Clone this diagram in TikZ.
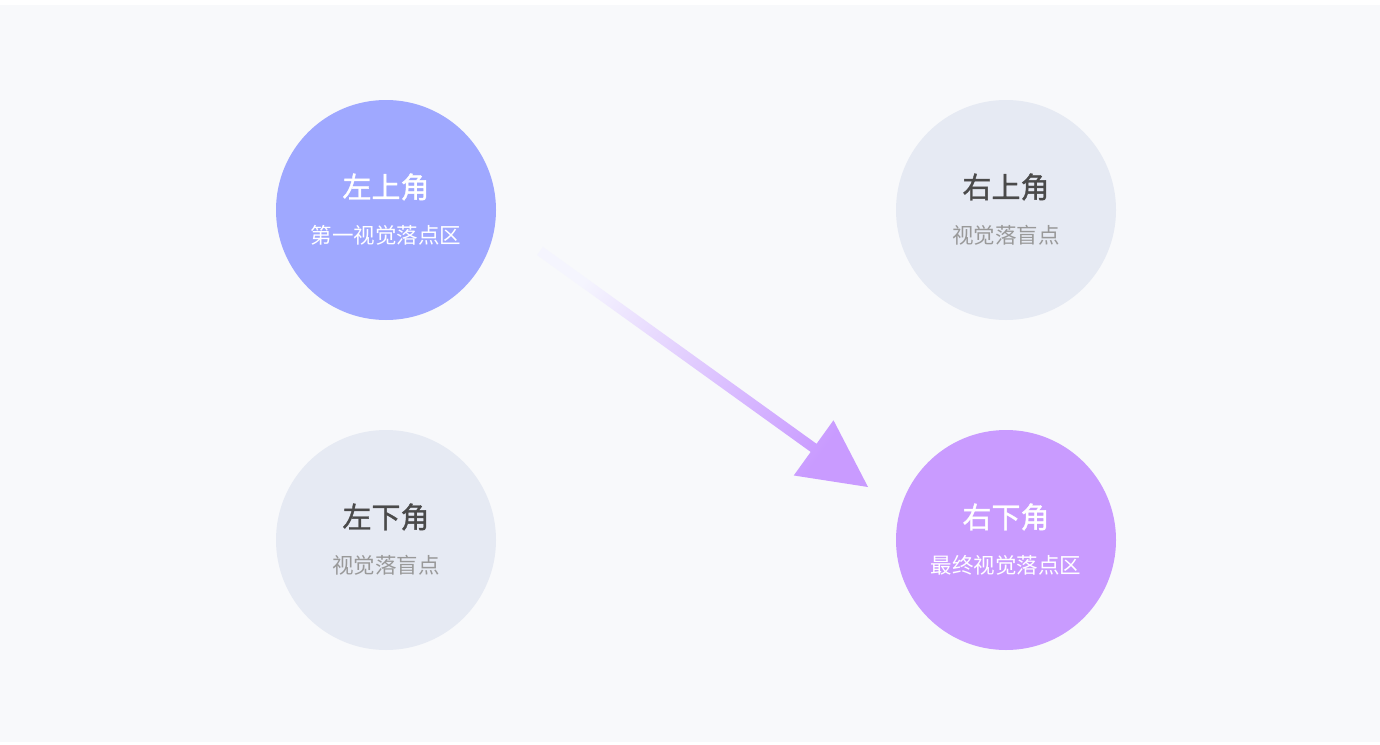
\documentclass[tikz,border=0pt]{standalone}
\usepackage{fontspec}
\newfontfamily\cjk{Noto Sans CJK SC}
\newfontfamily\cjkmed{Noto Sans CJK SC}[BoldFont={Noto Sans CJK SC},BoldFeatures={FakeBold=1.2}]
\usetikzlibrary{calc}
\definecolor{bgcol}{RGB}{248,249,251}
\definecolor{firstcol}{RGB}{159,168,255}
\definecolor{lastcol}{RGB}{201,155,255}
\definecolor{blindcol}{RGB}{230,234,243}
\definecolor{midcol}{RGB}{220,212,255}
\definecolor{fadecol}{RGB}{245,245,254}
\definecolor{darktxt}{RGB}{74,74,74}
\definecolor{greytxt}{RGB}{153,153,153}
\tikzset{
  zone/.style={circle, minimum size=220pt, inner sep=0pt, draw=none},
  ttl/.style={inner sep=0pt, font=\cjkmed\bfseries\fontsize{29}{29}\selectfont},
  sub/.style={inner sep=0pt, font=\cjk\fontsize{21.5}{21.5}\selectfont}
}
\begin{document}
\begin{tikzpicture}[x=1pt, y=-1pt]
\useasboundingbox (0,0) rectangle (1380,744);
\fill[bgcol] (0,5) rectangle (1380,742);
% four corners
\node[zone, fill=firstcol] (tl) at (386,210) {};
\node[zone, fill=blindcol] (tr) at (1006,210) {};
\node[zone, fill=blindcol] (bl) at (386,540) {};
\node[zone, fill=lastcol]  (br) at (1006,540) {};
\node[ttl, white] (tlT) at ([yshift=23pt]tl.center) {左上角};
\node[sub, white] (tlS) at ([yshift=-25pt]tl.center) {第一视觉落点区};
\node[ttl, darktxt] (trT) at ([yshift=23pt]tr.center) {右上角};
\node[sub, greytxt] (trS) at ([yshift=-25pt]tr.center) {视觉落盲点};
\node[ttl, darktxt] (blT) at ([yshift=23pt]bl.center) {左下角};
\node[sub, greytxt] (blS) at ([yshift=-25pt]bl.center) {视觉落盲点};
\node[ttl, white] (brT) at ([yshift=23pt]br.center) {右下角};
\node[sub, white] (brS) at ([yshift=-25pt]br.center) {最终视觉落点区};
% reading arrow
\coordinate (arrS) at (540,251);
\coordinate (arrT) at (868,487);
\coordinate (arrB) at ($(arrT)!67pt!(arrS)$);
\shade[top color=lastcol, middle color=midcol, bottom color=fadecol, shading angle=234]
  ($(arrS)!5pt!90:(arrT)$) -- ($(arrB)!5pt!-90:(arrS)$) -- ($(arrB)!34pt!-90:(arrS)$)
  -- (arrT) -- ($(arrB)!34pt!90:(arrS)$) -- ($(arrB)!5pt!90:(arrS)$)
  -- ($(arrS)!5pt!-90:(arrT)$) -- cycle;
\end{tikzpicture}
\end{document}
